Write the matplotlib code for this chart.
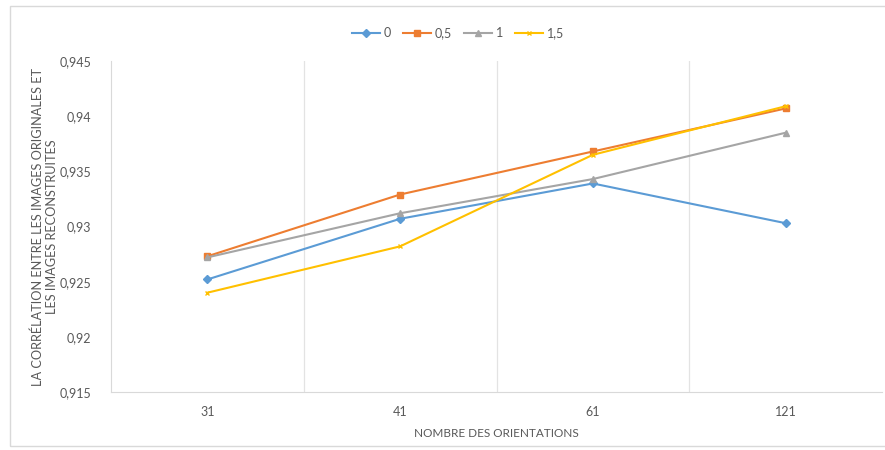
import matplotlib
matplotlib.use("Agg")
import matplotlib.pyplot as plt
from matplotlib.patches import Rectangle
from matplotlib.ticker import FixedLocator

# data
orientations = ["31", "41", "61", "121"]
series_names = ["0", "0,5", "1", "1,5"]
s0 = [0.9252, 0.9307, 0.9339, 0.9303]
s05 = [0.9273, 0.9329, 0.9368, 0.9407]
s1 = [0.9272, 0.9312, 0.9343, 0.9385]
s15 = [0.9240, 0.9282, 0.9365, 0.9409]
yticks = [0.915, 0.92, 0.925, 0.93, 0.935, 0.94, 0.945]
ylabel_lines = ["LA CORRÉLATION ENTRE LES IMAGES ORIGINALES ET",
                "LES IMAGES RECONSTRUITES"]

colors = ["#5B9BD5", "#ED7D31", "#A5A5A5", "#FFC000"]
markers = ["D", "s", "^", "x"]
msizes = [4, 5, 5, 3.5]

plt.rcParams['font.family'] = ['Lato', 'DejaVu Sans']

fig = plt.figure(figsize=(8.85, 4.5), dpi=100)
ax = fig.add_axes([111/885, 1 - 392/450, (882 - 111)/885, (392 - 61)/450])

x = list(range(len(orientations)))
for vals, name, c, m, ms in zip([s0, s05, s1, s15], series_names, colors, markers, msizes):
    ax.plot(x, vals, color=c, lw=1.5, marker=m, ms=ms, label=name,
            markeredgewidth=1.0)

ax.set_xlim(-0.5, len(orientations) - 0.5)
ax.set_ylim(0.915, 0.945)
ax.set_yticks(yticks)
ax.set_yticklabels([("%g" % v).replace(".", ",") for v in yticks])
ax.set_xticks(x)
ax.set_xticklabels(orientations)
ax.xaxis.set_minor_locator(FixedLocator([0.5, 1.5, 2.5]))
ax.grid(which="minor", axis="x", color="#E3E3E3", lw=0.9)
ax.tick_params(which="both", length=0, colors="#595959", labelsize=9)
ax.tick_params(axis="y", pad=14)
ax.tick_params(axis="x", pad=10)

for side in ["top", "right"]:
    ax.spines[side].set_visible(False)
for side in ["left", "bottom"]:
    ax.spines[side].set_color("#D9D9D9")

ax.set_xlabel("NOMBRE DES ORIENTATIONS", color="#595959", fontsize=8.5, labelpad=7)

# two-line y label, each line centred on the axis
for xpix, line in zip([38, 52], ylabel_lines):
    fig.text(xpix/885, 1 - 227/450, line, rotation=90, ha="center", va="center",
             color="#595959", fontsize=9.2)

fig.legend(loc="center", bbox_to_anchor=(458/885, 1 - 33/450), ncol=4, frameon=False,
           fontsize=9, handlelength=2.2, columnspacing=1.0, handletextpad=0.3,
           labelcolor="#595959")

fig.patches.append(Rectangle((10/885, 4/450), 880/885, 440/450, transform=fig.transFigure,
                             fill=False, edgecolor="#D9D9D9", lw=1))

fig.savefig("out.png", dpi=100)
